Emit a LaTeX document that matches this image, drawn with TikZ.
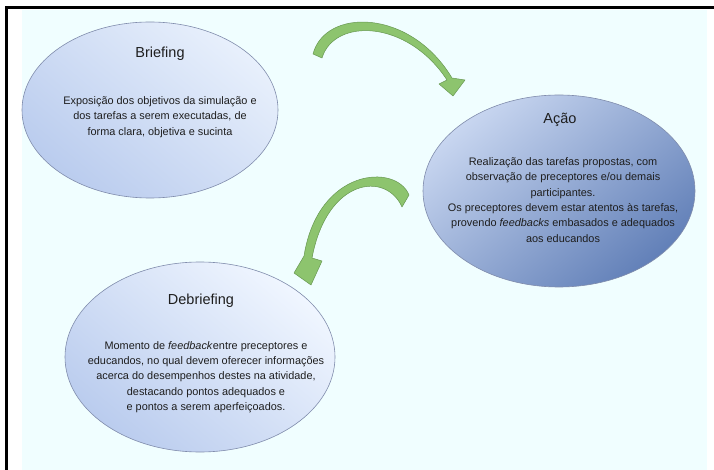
\documentclass[tikz,border=0pt]{standalone}
\usepackage{fontspec}
\setmainfont{Liberation Sans}
\usetikzlibrary{shapes.geometric}
\definecolor{fundo}{RGB}{240,254,255}
\definecolor{borda}{RGB}{128,140,172}
\definecolor{verde}{RGB}{141,196,110}
\definecolor{verdeesc}{RGB}{104,152,82}
\definecolor{texto}{RGB}{30,30,30}
\tikzset{
  etapa/.style={ellipse, draw=borda, line width=0.6pt, inner sep=0pt},
  titulo/.style={text=texto, font=\fontsize{14.5}{16}\selectfont},
  corpo/.style={text=texto, align=center, font=\fontsize{10.9}{15.3}\selectfont},
  seta/.style={fill=verde, draw=verdeesc, line width=0.5pt, line join=round}
}
\begin{document}
\begin{tikzpicture}[x=1pt,y=-1pt]
\useasboundingbox (0,0) rectangle (714,470);
% moldura e fundo
\fill[white] (0,0) rectangle (714,470);
\fill[fundo] (22,10) rectangle (707,470);
\draw[line width=3pt] (6.5,470) -- (6.5,7.5) -- (714,7.5);
% etapas
\node[etapa, minimum width=256pt, minimum height=176pt,
      top color={rgb,255:red,232;green,240;blue,252},
      bottom color={rgb,255:red,186;green,204;blue,238}, shading angle=-40]
      (brief) at (150,110) {};
\node[etapa, minimum width=272pt, minimum height=192pt,
      top color={rgb,255:red,200;green,214;blue,240},
      bottom color={rgb,255:red,98;green,128;blue,184}, shading angle=40]
      (acao) at (559,191) {};
\node[etapa, minimum width=270pt, minimum height=190pt,
      top color={rgb,255:red,240;green,246;blue,255},
      bottom color={rgb,255:red,186;green,204;blue,238}, shading angle=-40]
      (debrief) at (200,357) {};
% textos
\node[titulo] (tbrief) at (160,54) {Briefing};
\node[corpo] (cbrief) at (160,117) {Exposição dos objetivos da simulação e\\
  dos tarefas a serem executadas, de\\ forma clara, objetiva e sucinta};
\node[titulo] (tacao) at (560,120) {Ação};
\node[corpo] (cacao) at (563,200) {Realização das tarefas propostas, com\\
  observação de preceptores e/ou demais\\ participantes.\\
  Os preceptores devem estar atentos às tarefas,\\
  provendo \textit{feedbacks} embasados e adequados\\ aos educandos};
\node[titulo] (tdebrief) at (201,301) {Debriefing};
\node[corpo] (cdebrief) at (206,377) {Momento de \textit{feedback}entre preceptores e\\
  educandos, no qual devem oferecer informações\\
  acerca do desempenhos destes na atividade,\\
  destacando pontos adequados e\\ e pontos a serem aperfeiçoados.};
% setas curvas
\draw[seta] (313,54) .. controls (325,8) and (410,8) .. (452,78)
  -- (465,80) -- (453,96) -- (439,84) -- (447,80)
  .. controls (407,19) and (334,18) .. (322,58) -- cycle;
\draw[seta] (409,195) .. controls (396,163) and (318,168) .. (304,256)
  -- (294,273) -- (311,285) -- (322,261) -- (312,258)
  .. controls (327,178) and (386,171) .. (402,207) -- cycle;
\end{tikzpicture}
\end{document}
